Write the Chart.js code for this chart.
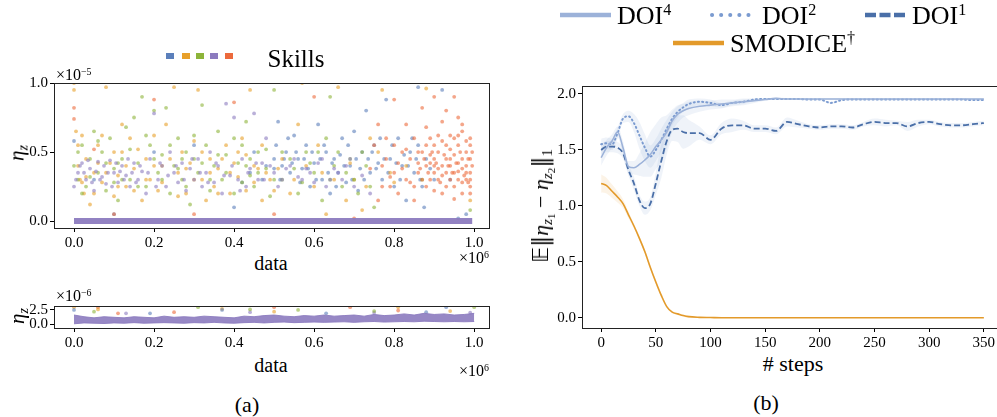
<!DOCTYPE html>
<html>
<head>
<meta charset="utf-8">
<script src="https://cdn.jsdelivr.net/npm/chart.js@4.4.1/dist/chart.umd.min.js"></script>
<style>
html, body { margin: 0; padding: 0; background: #fff; overflow: hidden; width: 997px; height: 417px; }
body { position: relative; font-family: 'Liberation Serif', serif; color: #000; }
canvas { position: absolute; }
.t { position: absolute; white-space: nowrap; line-height: 1; transform: translate(-50%, -50%); }
.l { position: absolute; white-space: nowrap; line-height: 1; transform: translate(0, -50%); }
.r { position: absolute; white-space: nowrap; line-height: 1; transform: translate(-100%, -50%); }
.rot { transform: translate(-50%, -50%) rotate(-90deg); }
.sq { position: absolute; width: 8px; height: 6px; }
sup { font-size: 0.62em; vertical-align: 0.55em; line-height: 0; }
sub { font-size: 0.68em; vertical-align: -0.3em; line-height: 0; }
sub sub { font-size: 0.75em; }
.dj { font-family: 'DejaVu Serif', serif; }
</style>
</head>
<body>

<canvas id="scatterTop" width="500" height="180" style="left:0;top:70px"></canvas>
<canvas id="scatterBottom" width="500" height="55" style="left:0;top:295px"></canvas>
<canvas id="stepsChart" width="490" height="275" style="left:520px;top:75px"></canvas>

<!-- panel (a) texts -->
<div class="sq" style="left:166px;top:53px;background:#5b7fbb"></div>
<div class="sq" style="left:182px;top:53px;background:#e8a02a"></div>
<div class="sq" style="left:196px;top:53px;background:#8db43a"></div>
<div class="sq" style="left:210px;top:53px;background:#8c7bbf"></div>
<div class="sq" style="left:225px;top:53px;background:#ec6a3c"></div>
<div class="t" style="left:296px;top:58px;font-size:25px">Skills</div>

<div class="l" style="left:56px;top:75px;font-size:16px">×10<sup>−5</sup></div>
<div class="t rot" style="left:17px;top:153px;font-size:21px"><i>η</i><sub><i>z</i></sub></div>
<div class="t" style="left:271px;top:263px;font-size:20px">data</div>
<div class="r" style="left:489px;top:258px;font-size:16px">×10<sup>6</sup></div>

<div class="l" style="left:56px;top:296px;font-size:16px">×10<sup>−6</sup></div>
<div class="t rot" style="left:17px;top:316px;font-size:21px"><i>η</i><sub><i>z</i></sub></div>
<div class="t" style="left:271px;top:365px;font-size:20px">data</div>
<div class="r" style="left:489px;top:371px;font-size:16px">×10<sup>6</sup></div>
<div class="t" style="left:247px;top:405px;font-size:22px">(a)</div>

<!-- panel (b) texts -->
<svg style="position:absolute;left:0;top:0" width="997" height="60">
  <line x1="560" y1="15" x2="611" y2="15" stroke="#9cb2d9" stroke-width="4.5"/>
  <line x1="712" y1="15" x2="757" y2="15" stroke="#7b9bd0" stroke-width="4" stroke-dasharray="0.1 9" stroke-linecap="round"/>
  <line x1="865" y1="15" x2="906" y2="15" stroke="#4a6fa8" stroke-width="4.5" stroke-dasharray="11 3.5"/>
  <line x1="673" y1="43" x2="724" y2="43" stroke="#e39a2a" stroke-width="4.5"/>
</svg>
<div class="l" style="left:617px;top:16px;font-size:26px">DOI<sup>4</sup></div>
<div class="l" style="left:762px;top:16px;font-size:26px">DOI<sup>2</sup></div>
<div class="l" style="left:912px;top:16px;font-size:26px">DOI<sup>1</sup></div>
<div class="l" style="left:730px;top:44px;font-size:26px">SMODICE<sup>†</sup></div>

<div class="t rot" style="left:541px;top:206px;font-size:22px">𝔼<span class="dj">‖</span><i>η</i><sub><i>z</i><sub>1</sub></sub> − <i>η</i><sub><i>z</i><sub>2</sub></sub><span class="dj">‖</span><sub>1</sub></div>
<div class="t" style="left:793px;top:364px;font-size:22px"># steps</div>
<div class="t" style="left:766px;top:403px;font-size:22px">(b)</div>

<script>
// ---------- panel (a): skills scatter, x in 1e6, y in 1e-5 ----------
const skillNames = ['skill 1', 'skill 2', 'skill 3', 'skill 4', 'skill 5'];
const skillColors = ['rgba(91,127,187,0.6)', 'rgba(232,160,42,0.6)', 'rgba(141,180,58,0.6)', 'rgba(140,123,191,0.6)', 'rgba(236,106,60,0.6)'];

const skillBlue = [[0.0,0.58],[0.05,0.3],[0.1,0.05],[0.2,0.5],[0.3,0.55],[0.4,0.1],[0.45,0.5],[0.47,0.3],[0.5,0.45],[0.51,0.72],[0.52,0.4],[0.53,0.5],[0.54,0.35],[0.55,0.62],[0.56,0.45],[0.57,0.38],[0.58,0.55],[0.59,0.25],[0.6,0.42],[0.61,0.7],[0.62,0.3],[0.63,0.5],[0.64,0.2],[0.65,0.45],[0.66,0.35],[0.67,0.6],[0.68,0.28],[0.69,0.4],[0.7,0.65],[0.71,0.22],[0.72,0.5],[0.73,0.8],[0.74,0.35],[0.75,0.55],[0.76,0.42],[0.77,0.3],[0.78,0.88],[0.79,0.45],[0.8,0.25],[0.81,0.6],[0.82,0.4],[0.83,0.15],[0.84,0.5],[0.85,0.35],[0.86,0.97],[0.86,0.55],[0.87,0.25],[0.88,0.45],[0.89,0.38],[0.9,0.3],[0.92,0.95],[0.94,0.3],[0.96,0.02],[0.98,0.05],
    [0.5,0.38],[0.505,0.55],[0.515,0.3],[0.525,0.45],[0.535,0.6],[0.545,0.42],[0.555,0.5],[0.565,0.28],[0.575,0.45],[0.585,0.38],[0.595,0.5],[0.605,0.3],[0.615,0.45],[0.625,0.55],[0.635,0.35],[0.645,0.42],[0.655,0.25],[0.665,0.48],[0.675,0.4],[0.685,0.55],[0.695,0.3],[0.705,0.45],[0.715,0.38],[0.725,0.3],[0.735,0.45],[0.745,0.5],[0.755,0.38],[0.765,0.6],[0.775,0.45],[0.785,0.35],[0.795,0.55],[0.805,0.42],[0.815,0.3],[0.825,0.48],[0.835,0.4],[0.845,0.6],[0.855,0.45],[0.865,0.3],[0.875,0.1],[0.48,0.4],[0.44,0.35],[0.42,0.28]];
const skillOrange = [[0.0,0.95],[0.0,1.0],[0.005,0.65],[0.01,0.4],[0.015,0.3],[0.02,0.62],[0.025,0.2],[0.03,0.45],[0.04,0.12],[0.05,0.35],[0.06,0.55],[0.07,0.28],[0.08,0.97],[0.09,0.42],[0.1,0.18],[0.11,0.33],[0.12,0.5],[0.13,0.25],[0.14,0.6],[0.15,0.38],[0.17,0.15],[0.18,0.45],[0.19,0.3],[0.2,0.62],[0.21,0.22],[0.22,0.4],[0.23,0.7],[0.25,0.97],[0.26,0.35],[0.27,0.5],[0.28,0.2],[0.29,0.42],[0.3,0.58],[0.31,0.95],[0.32,0.3],[0.33,0.15],[0.34,0.45],[0.35,0.25],[0.36,0.38],[0.38,0.55],[0.39,0.2],[0.4,0.42],[0.41,0.32],[0.42,0.6],[0.43,0.48],[0.44,0.95],[0.45,0.28],[0.46,0.38],[0.47,0.15],[0.48,0.35],[0.5,0.22],[0.52,0.45],[0.55,0.3],[0.56,0.7],[0.57,1.0],[0.6,0.25],[0.62,0.35],[0.63,0.05],[0.66,0.97],[0.68,0.15],[0.7,0.3],[0.72,0.08],[0.74,0.6],[0.77,0.95],[0.8,0.28],[0.88,0.96],[0.99,0.15],
    [0.01,0.55],[0.03,0.32],[0.05,0.2],[0.06,0.42],[0.08,0.35],[0.1,0.5],[0.11,0.25],[0.13,0.4],[0.15,0.22],[0.16,0.52],[0.18,0.3],[0.2,0.4],[0.22,0.28],[0.24,0.45],[0.26,0.18],[0.28,0.38],[0.3,0.3],[0.32,0.5],[0.34,0.35],[0.36,0.2],[0.37,0.45],[0.39,0.35],[0.41,0.5],[0.43,0.22],[0.45,0.4],[0.47,0.55],[0.49,0.3],[0.51,0.38],[0.54,0.2],[0.58,0.4],[0.61,0.55],[0.65,0.3],[0.69,0.42],[0.73,0.25],[0.76,0.5],[0.79,0.35],[0.83,0.4],[0.02,0.28],[0.07,0.62],[0.12,0.7]];
const skillGreen = [[0.0,0.4],[0.01,0.3],[0.02,0.55],[0.03,0.25],[0.04,0.45],[0.05,0.65],[0.06,0.35],[0.07,0.5],[0.08,0.22],[0.09,0.6],[0.1,0.38],[0.11,0.15],[0.12,0.45],[0.13,0.68],[0.14,0.3],[0.15,0.75],[0.16,0.42],[0.17,0.9],[0.18,0.25],[0.19,0.55],[0.2,0.8],[0.21,0.35],[0.22,0.48],[0.23,0.82],[0.24,0.2],[0.25,0.4],[0.26,0.6],[0.27,0.3],[0.28,0.5],[0.29,0.12],[0.3,0.45],[0.31,0.35],[0.32,0.84],[0.33,0.55],[0.34,0.22],[0.35,0.4],[0.36,0.65],[0.37,0.3],[0.38,0.48],[0.4,0.2],[0.41,0.42],[0.42,0.55],[0.43,0.72],[0.44,0.33],[0.45,0.25],[0.46,0.5],[0.48,0.38],[0.49,0.18],[0.5,0.95],[0.52,0.3],[0.54,0.45],[0.56,0.2],[0.58,0.5],[0.6,0.35],[0.62,0.15],[0.63,0.6],[0.64,0.9],[0.65,0.4],[0.67,0.25],[0.69,0.45],[0.71,0.2],[0.73,0.4],[0.75,0.1],[0.87,0.3],[0.99,0.08],
    [0.01,0.5],[0.02,0.2],[0.04,0.32],[0.06,0.58],[0.08,0.42],[0.1,0.28],[0.12,0.3],[0.14,0.52],[0.16,0.25],[0.18,0.62],[0.2,0.45],[0.22,0.3],[0.24,0.55],[0.26,0.38],[0.28,0.25],[0.3,0.62],[0.32,0.42],[0.34,0.3],[0.36,0.48],[0.38,0.35],[0.4,0.6],[0.42,0.28],[0.44,0.45],[0.46,0.35],[0.48,0.52],[0.5,0.3],[0.52,0.5],[0.55,0.38],[0.57,0.28],[0.59,0.42],[0.61,0.5],[0.64,0.3],[0.66,0.5],[0.68,0.35],[0.7,0.3],[0.72,0.5],[0.74,0.25],[0.11,0.42],[0.27,0.45],[0.43,0.4]];
const skillPurple = [[0.0,0.25],[0.01,0.35],[0.02,0.42],[0.03,0.3],[0.04,0.38],[0.05,0.22],[0.06,0.43],[0.07,0.32],[0.08,0.27],[0.09,0.44],[0.1,0.35],[0.11,0.28],[0.12,0.4],[0.13,0.33],[0.14,0.25],[0.15,0.42],[0.16,0.3],[0.17,0.36],[0.18,0.2],[0.19,0.45],[0.2,0.78],[0.21,0.3],[0.22,0.4],[0.23,0.25],[0.24,0.5],[0.25,0.35],[0.26,0.28],[0.27,0.42],[0.28,0.22],[0.29,0.38],[0.3,0.3],[0.31,0.45],[0.32,0.25],[0.33,0.35],[0.34,0.5],[0.35,0.28],[0.36,0.4],[0.37,0.2],[0.38,0.85],[0.39,0.33],[0.4,0.75],[0.41,0.3],[0.42,0.45],[0.43,0.25],[0.44,0.38],[0.45,0.78],[0.46,0.3],[0.47,0.42],[0.48,0.6],[0.5,0.35],[0.52,0.3],[0.54,0.4],[0.56,0.32],[0.58,0.38],[0.6,0.28],[0.62,0.45],[0.64,0.3],[0.66,0.35],[0.68,0.4],[0.7,0.25],[0.72,0.33],[0.74,0.2],
    [0.005,0.3],[0.015,0.4],[0.025,0.35],[0.035,0.44],[0.045,0.28],[0.055,0.36],[0.065,0.3],[0.075,0.4],[0.085,0.35],[0.095,0.25],[0.105,0.42],[0.115,0.36],[0.125,0.3],[0.135,0.45],[0.145,0.35],[0.155,0.28],[0.165,0.4],[0.185,0.35],[0.205,0.25],[0.215,0.42],[0.235,0.33],[0.255,0.4],[0.275,0.3],[0.295,0.45],[0.315,0.35],[0.335,0.28],[0.355,0.42],[0.375,0.33],[0.395,0.4],[0.415,0.22],[0.435,0.35],[0.455,0.42],[0.475,0.3],[0.49,0.4],[0.51,0.25],[0.53,0.38],[0.55,0.45],[0.57,0.3],[0.59,0.35],[0.61,0.42],[0.63,0.25],[0.65,0.38],[0.67,0.3],[0.69,0.45]];
const skillRed = [[0.0,0.82],[0.0,0.74],[0.05,0.52],[0.1,0.05],[0.2,0.88],[0.3,0.05],[0.4,0.86],[0.5,0.05],[0.6,0.9],[0.7,0.02],[0.74,0.38],[0.76,0.7],[0.77,0.25],[0.78,0.45],[0.79,0.32],[0.8,0.88],[0.8,0.55],[0.81,0.2],[0.82,0.38],[0.83,0.7],[0.83,0.3],[0.84,0.45],[0.85,0.15],[0.85,0.6],[0.86,0.35],[0.87,0.82],[0.87,0.5],[0.88,0.4],[0.88,0.25],[0.89,0.42],[0.89,0.6],[0.9,0.35],[0.9,0.9],[0.9,0.45],[0.91,0.3],[0.91,0.5],[0.92,0.4],[0.92,0.72],[0.92,0.2],[0.93,0.45],[0.93,0.35],[0.93,0.55],[0.94,0.3],[0.94,0.62],[0.94,0.4],[0.95,0.9],[0.95,0.48],[0.95,0.35],[0.95,0.25],[0.96,0.42],[0.96,0.55],[0.96,0.3],[0.97,0.38],[0.97,0.65],[0.97,0.45],[0.97,0.2],[0.98,0.4],[0.98,0.3],[0.98,0.5],[0.98,0.58],[0.99,0.35],[0.99,0.45],[0.99,0.25],[0.99,0.55],[0.99,0.3],[0.91,0.38],[0.92,0.33],[0.9,0.4],[0.89,0.3],[0.88,0.55],[0.86,0.42],[0.84,0.28],[0.82,0.5],[0.8,0.35],[0.78,0.6],[0.76,0.15],[0.75,0.55],[0.96,0.62],[0.97,0.28],[0.94,0.45],
    [0.865,0.38],[0.875,0.45],[0.885,0.35],[0.895,0.5],[0.905,0.42],[0.915,0.28],[0.925,0.48],[0.935,0.4],[0.945,0.35],[0.955,0.42],[0.965,0.5],[0.975,0.33],[0.985,0.45],[0.995,0.4],[0.87,0.3],[0.9,0.55],[0.93,0.25],[0.96,0.36],[0.985,0.28],[0.995,0.5],[0.88,0.68],[0.91,0.62],[0.94,0.52],[0.97,0.7],[0.99,0.2],[0.9,0.22],[0.92,0.58],[0.95,0.6],[0.98,0.35],[0.86,0.5],[0.83,0.52],[0.81,0.42],[0.79,0.25],[0.77,0.4],[0.85,0.25],[0.95,0.16],[0.93,0.8],[0.96,0.75],[0.99,0.6],[0.89,0.48]];
const zeroRowX = [0.0, 0.995];  // the many points sitting at zero

const aTickX = [0, 0.2, 0.4, 0.6, 0.8, 1.0];
const aTopTickY = [0, 0.5, 1.0];
const aBottomTickY = [0, 2.5];

// lower panel, y in 1e-6
const bandX = [0,0.025,0.05,0.075,0.1,0.125,0.15,0.175,0.2,0.225,0.25,0.275,0.3,0.325,0.35,0.375,0.4,0.425,0.45,0.475,0.5,0.525,0.55,0.575,0.6,0.625,0.65,0.675,0.7,0.725,0.75,0.775,0.8,0.825,0.85,0.875,0.9,0.925,0.95,0.975,1.0];
const bandLow = [0.05,0.2,0.15,0.1,0.2,0.15,0.25,0.15,0.2,0.25,0.2,0.15,0.25,0.2,0.3,0.2,0.15,0.25,0.3,0.2,0.3,0.35,0.25,0.3,0.35,0.3,0.35,0.4,0.3,0.4,0.45,0.35,0.4,0.45,0.4,0.5,0.45,0.4,0.45,0.4,0.45];
const bandHigh = [1.6,1.3,1.1,1.3,1.2,1.1,1.3,1.2,1.1,1.4,1.2,1.3,1.2,1.4,1.3,1.2,1.1,1.4,1.3,1.5,1.6,1.4,1.3,1.5,1.4,1.6,1.4,1.5,1.6,1.4,1.7,1.5,1.6,1.8,1.6,1.9,1.7,1.8,1.6,1.7,1.9];
const spikeBlue = [[0.0,2.5],[0.19,1.9],[0.37,2.5],[0.63,1.9],[0.88,2.1],[0.93,3.0]];
const spikeOrange = [[0.0,3.0],[0.06,2.6],[0.37,2.7],[0.5,2.2],[0.81,3.0],[0.94,2.3]];
const spikeGreen = [[0.05,2.2],[0.31,3.0],[0.44,2.6],[0.56,2.5],[0.75,2.3],[1.0,3.0]];
const spikePurple = [[0.13,1.9],[0.44,2.1],[0.75,2.0],[0.99,2.0]];
const spikeRed = [[0.06,3.0],[0.11,1.9],[0.25,2.1],[0.5,3.0],[0.69,3.0],[0.81,2.4]];

// ---------- panel (b): distance over steps ----------
const steps = [0,5,10,15,20,25,30,35,40,45,50,55,60,65,70,75,80,90,100,110,120,130,140,150,160,170,180,190,200,210,220,230,240,250,260,270,280,290,300,310,320,330,340,350];
const doi4 = [1.43,1.52,1.58,1.66,1.52,1.35,1.34,1.37,1.41,1.46,1.53,1.59,1.66,1.76,1.82,1.85,1.87,1.89,1.90,1.91,1.92,1.93,1.94,1.95,1.96,1.955,1.955,1.955,1.955,1.955,1.955,1.955,1.955,1.955,1.955,1.955,1.955,1.955,1.955,1.955,1.955,1.955,1.955,1.955];
const doi4Std = [0.07,0.07,0.06,0.05,0.06,0.05,0.06,0.1,0.15,0.2,0.2,0.2,0.15,0.1,0.08,0.06,0.06,0.05,0.04,0.04,0.03,0.03,0.02,0.01,0.008,0.008,0.008,0.008,0.008,0.008,0.008,0.008,0.008,0.008,0.008,0.008,0.008,0.008,0.008,0.008,0.008,0.008,0.008,0.008];
const doi2 = [1.55,1.56,1.55,1.65,1.78,1.80,1.74,1.63,1.52,1.44,1.50,1.59,1.69,1.78,1.84,1.88,1.91,1.93,1.92,1.90,1.92,1.93,1.95,1.955,1.955,1.955,1.955,1.95,1.95,1.92,1.945,1.95,1.95,1.95,1.95,1.95,1.95,1.95,1.95,1.95,1.95,1.95,1.945,1.945];
const doi2Std = [0.05,0.05,0.05,0.05,0.04,0.05,0.08,0.12,0.12,0.1,0.1,0.1,0.08,0.06,0.05,0.04,0.04,0.03,0.03,0.02,0.02,0.02,0.01,0.008,0.008,0.008,0.008,0.008,0.008,0.008,0.008,0.008,0.008,0.008,0.008,0.008,0.008,0.008,0.008,0.008,0.008,0.008,0.008,0.008];
const doi1 = [1.50,1.53,1.53,1.52,1.47,1.32,1.20,1.05,0.98,1.02,1.20,1.40,1.58,1.68,1.69,1.66,1.65,1.65,1.59,1.69,1.72,1.72,1.69,1.69,1.67,1.75,1.73,1.71,1.70,1.71,1.71,1.70,1.73,1.75,1.74,1.74,1.71,1.74,1.75,1.73,1.72,1.72,1.73,1.74];
const doi1Std = [0.05,0.05,0.05,0.05,0.05,0.05,0.06,0.05,0.06,0.06,0.1,0.15,0.12,0.1,0.12,0.15,0.12,0.06,0.04,0.05,0.06,0.04,0.03,0.03,0.03,0.04,0.03,0.02,0.02,0.02,0.02,0.02,0.02,0.03,0.03,0.02,0.04,0.03,0.02,0.02,0.02,0.02,0.02,0.02];
const smodice = [1.20,1.18,1.13,1.08,1.02,0.92,0.82,0.71,0.59,0.45,0.32,0.20,0.10,0.05,0.035,0.02,0.01,0.004,0.002,0,0,0,0,0,0,0,0,0,0,0,0,0,0,0,0,0,0,0,0,0,0,0,0,0];
const smodiceStd = [0.08,0.07,0.06,0.05,0.04,0.03,0.02,0.02,0.02,0.02,0.02,0.02,0.01,0.01,0.01,0.01,0.01,0,0,0,0,0,0,0,0,0,0,0,0,0,0,0,0,0,0,0,0,0,0,0,0,0,0,0];

const bTickX = [0, 50, 100, 150, 200, 250, 300, 350];
const bTickY = [0, 0.5, 1.0, 1.5, 2.0];

// ---------- helpers ----------
Chart.defaults.font.family = 'Liberation Serif';
Chart.defaults.color = '#000';
const tickFont = { family: 'Liberation Serif', size: 15 };
const pairs = arr => arr.map(p => ({ x: p[0], y: p[1] }));
const series = (xs, ys) => xs.map((x, i) => ({ x: x, y: ys[i] }));

const frame = {
    id: 'frame',
    afterDraw(chart) {
        const a = chart.chartArea, ctx = chart.ctx;
        ctx.save();
        ctx.strokeStyle = '#222';
        ctx.lineWidth = 1;
        ctx.strokeRect(Math.round(a.left) + 0.5, Math.round(a.top) + 0.5, Math.round(a.right - a.left), Math.round(a.bottom - a.top));
        ctx.restore();
    }
};

function axis(min, max, ticks, fmt, fit) {
    return {
        type: 'linear', min: min, max: max,
        afterBuildTicks: s => { s.ticks = ticks.map(v => ({ value: v })); },
        afterFit: fit,
        grid: { drawOnChartArea: false, drawTicks: true, tickLength: 4, tickColor: '#000' },
        border: { display: true, color: '#222' },
        ticks: { color: '#000', font: tickFont, padding: 2, maxRotation: 0, autoSkip: false, callback: fmt }
    };
}

const baseOptions = (padTop, padRight, xs, ys) => ({
    responsive: false, animation: false, devicePixelRatio: 1,
    layout: { padding: { top: padTop, right: padRight, left: 0, bottom: 0 } },
    plugins: { legend: { display: false }, tooltip: { enabled: false } },
    scales: { x: xs, y: ys }
});

// ---------- (a) top ----------
const skillSets = [skillBlue, skillOrange, skillGreen, skillPurple, skillRed];
new Chart(document.getElementById('scatterTop'), {
    type: 'scatter',
    data: {
        datasets: [
            {
                type: 'line', label: 'zero', data: zeroRowX.map(x => ({ x: x, y: 0 })),
                borderColor: 'rgba(140,123,191,0.95)', borderWidth: 6, pointRadius: 0, order: 0
            }
        ].concat(skillSets.map((set, i) => ({
            label: skillNames[i], data: pairs(set),
            backgroundColor: skillColors[i], borderWidth: 0, pointRadius: 1.9, order: 5 - i
        })))
    },
    options: baseOptions(13, 11,
        axis(-0.05, 1.037, aTickX, v => v.toFixed(1), s => { s.height = 22; }),
        axis(-0.05, 1.0, aTopTickY, v => v.toFixed(1), s => { s.width = 54; })),
    plugins: [frame]
});

// ---------- (a) bottom ----------
const spikeSets = [spikeBlue, spikeOrange, spikeGreen, spikePurple, spikeRed];
new Chart(document.getElementById('scatterBottom'), {
    type: 'scatter',
    data: {
        datasets: [
            { type: 'line', label: 'low', data: series(bandX, bandLow), borderColor: 'rgba(140,123,191,0.9)', borderWidth: 1, pointRadius: 0, fill: false, order: 1 },
            { type: 'line', label: 'high', data: series(bandX, bandHigh), borderColor: 'rgba(140,123,191,0.9)', borderWidth: 1, pointRadius: 0, fill: '-1', backgroundColor: 'rgba(140,123,191,0.9)', order: 1 }
        ].concat(spikeSets.map((set, i) => ({
            label: skillNames[i], data: pairs(set),
            backgroundColor: skillColors[i], borderWidth: 0, pointRadius: 1.9, order: 2
        })))
    },
    options: baseOptions(9, 11,
        axis(-0.05, 1.037, aTickX, v => v.toFixed(1), s => { s.height = 22; }),
        axis(-0.7, 3.2, aBottomTickY, v => v.toFixed(1), s => { s.width = 54; })),
    plugins: [frame]
});

// ---------- (b) ----------
const bandFill = 'rgba(130,160,210,0.13)';
function withBand(mean, std, color, dash, width, fillColor, name) {
    return [
        { label: name, data: series(steps, mean), borderColor: color, borderWidth: width, borderDash: dash,
          borderCapStyle: dash.length && dash[0] < 2 ? 'round' : 'butt', pointRadius: 0, fill: false,
          cubicInterpolationMode: 'monotone', order: 0 },
        { label: name + ' hi', data: series(steps, mean.map((m, i) => m + std[i])), borderWidth: 0,
          pointRadius: 0, fill: false, cubicInterpolationMode: 'monotone', order: 2 },
        { label: name + ' lo', data: series(steps, mean.map((m, i) => m - std[i])), borderWidth: 0,
          pointRadius: 0, fill: '-1', backgroundColor: fillColor, cubicInterpolationMode: 'monotone', order: 2 }
    ];
}

new Chart(document.getElementById('stepsChart'), {
    type: 'line',
    data: {
        datasets: [].concat(
            withBand(doi4, doi4Std, '#9cb2d9', [], 1.6, bandFill, 'DOI4'),
            withBand(doi2, doi2Std, '#7b9bd0', [1, 3.2], 2, bandFill, 'DOI2'),
            withBand(doi1, doi1Std, '#4a6fa8', [6, 3], 1.8, bandFill, 'DOI1'),
            withBand(smodice, smodiceStd, '#e39a2a', [], 1.6, 'rgba(230,160,60,0.13)', 'SMODICE')
        )
    },
    options: baseOptions(9, 7,
        axis(-17.5, 367.5, bTickX, v => String(v), s => { s.height = 22; }),
        axis(-0.0913, 2.071, bTickY, v => v.toFixed(1), s => { s.width = 62; })),
    plugins: [frame]
});
</script>
</body>
</html>
